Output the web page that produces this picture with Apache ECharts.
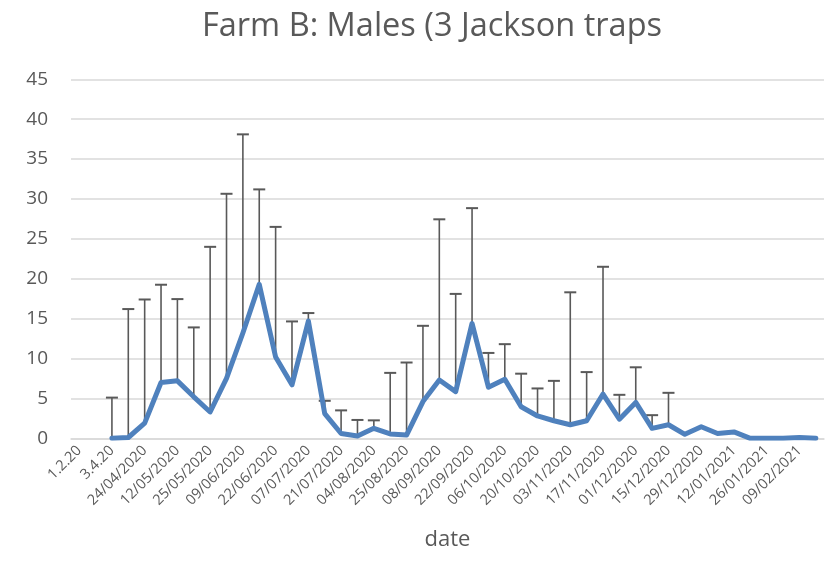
<!DOCTYPE html>
<html>
<head>
<meta charset="utf-8">
<script src="https://cdn.jsdelivr.net/npm/echarts@6/dist/echarts.min.js"></script>
<style>html,body{margin:0;padding:0;background:#fff;}#chart{width:836px;height:563px;}</style>
</head>
<body>
<div id="chart"></div>
<script>
// Category axis (every other label is shown; the in-between labels are not visible in the source)
var categories = [
  "1.2.20", "", "3.4.20", "", "24/04/2020", "", "12/05/2020", "", "25/05/2020", "",
  "09/06/2020", "", "22/06/2020", "", "07/07/2020", "", "21/07/2020", "", "04/08/2020", "",
  "25/08/2020", "", "08/09/2020", "", "22/09/2020", "", "06/10/2020", "", "20/10/2020", "",
  "03/11/2020", "", "17/11/2020", "", "01/12/2020", "", "15/12/2020", "", "29/12/2020", "",
  "12/01/2021", "", "26/01/2021", "", "09/02/2021", ""
];
// Mean male catch (3 Jackson traps)
var meanValues = [
  null, null,
  0.0, 0.1, 1.9, 7.0, 7.2, 5.2, 3.3, 7.5, 13.2, 19.3,
  10.2, 6.7, 14.7, 3.1, 0.6, 0.3, 1.25, 0.55, 0.4, 4.6,
  7.3, 5.85, 14.4, 6.4, 7.4, 3.95, 2.8, 2.2, 1.7, 2.2,
  5.55, 2.4, 4.5, 1.25, 1.7, 0.5, 1.45, 0.6, 0.8, 0.0,
  0.0, 0.0, 0.1, 0.0
];
// Upper end of the error bar
var upperValues = [
  null, null,
  5.1, 16.2, 17.4, 19.25, 17.45, 13.9, 24.0, 30.65, 38.1, 31.2,
  26.5, 14.65, 15.7, 4.7, 3.5, 2.3, 2.25, 8.2, 9.5, 14.1,
  27.45, 18.1, 28.85, 10.7, 11.8, 8.1, 6.25, 7.2, 18.3, 8.3,
  21.5, 5.45, 8.9, 2.9, 5.7, null, null, null, null, null,
  null, null, null, null
];
var yTicks = { min: 0, max: 45, interval: 5 };

var errData = [];
for (var i = 0; i < categories.length; i++) {
  if (meanValues[i] != null && upperValues[i] != null) errData.push([i, meanValues[i], upperValues[i]]);
}

var FONT = 'Open Sans';
var chart = echarts.init(document.getElementById('chart'), null, { renderer: 'canvas' });
chart.setOption({
  animation: false,
  backgroundColor: '#ffffff',
  title: {
    text: 'Farm B: Males (3 Jackson traps',
    left: 197, top: 5,
    textStyle: { fontFamily: FONT, fontSize: 32.5, fontWeight: 'normal', color: '#595959' }
  },
  grid: { left: 71, right: 12, top: 79.3, bottom: 124.7, containLabel: false },
  xAxis: {
    type: 'category',
    data: categories,
    boundaryGap: true,
    name: 'date',
    nameLocation: 'middle',
    nameGap: 90,
    nameTextStyle: { fontFamily: FONT, fontSize: 22, color: '#595959' },
    axisLine: { show: true, lineStyle: { color: '#d9d9d9', width: 1.5 } },
    axisTick: { show: false },
    axisLabel: { interval: 1, rotate: 45, fontFamily: FONT, fontSize: 14.5, color: '#595959', margin: 10 }
  },
  yAxis: {
    type: 'value',
    min: yTicks.min, max: yTicks.max, interval: yTicks.interval,
    axisLine: { show: false },
    axisTick: { show: false },
    axisLabel: { fontFamily: FONT, fontSize: 19, color: '#595959', margin: 23 },
    splitLine: { lineStyle: { color: '#d9d9d9', width: 1.5 } }
  },
  series: [
    {
      type: 'custom',
      data: errData,
      z: 1,
      renderItem: function (params, api) {
        var x = api.value(0);
        var lo = api.coord([x, api.value(1)]);
        var hi = api.coord([x, api.value(2)]);
        var cap = 6;
        return {
          type: 'group',
          children: [
            { type: 'line', shape: { x1: lo[0], y1: lo[1], x2: hi[0], y2: hi[1] }, style: { stroke: '#595959', lineWidth: 1.6 } },
            { type: 'line', shape: { x1: hi[0] - cap, y1: hi[1], x2: hi[0] + cap, y2: hi[1] }, style: { stroke: '#595959', lineWidth: 2 } }
          ]
        };
      }
    },
    {
      type: 'line',
      data: meanValues,
      z: 3,
      showSymbol: false,
      symbol: 'none',
      connectNulls: false,
      lineStyle: { color: '#4f81bd', width: 5, join: 'round', cap: 'round' }
    }
  ]
});
</script>
</body>
</html>
